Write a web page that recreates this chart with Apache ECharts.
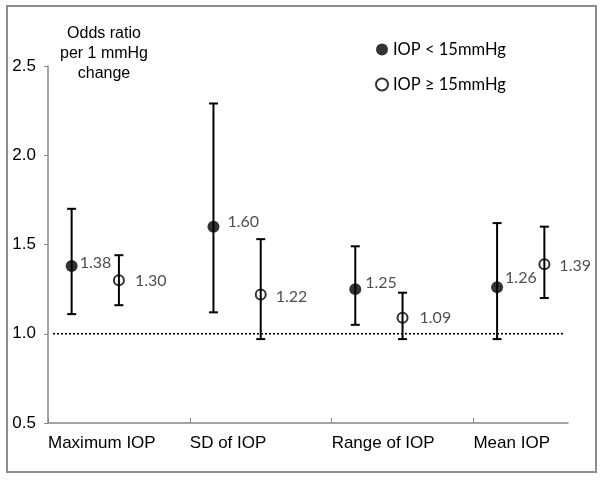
<!DOCTYPE html>
<html><head><meta charset="utf-8">
<script src="https://cdn.jsdelivr.net/npm/echarts@6/dist/echarts.min.js"></script>
<style>html,body{margin:0;padding:0;background:#fff}#c{width:603px;height:480px}</style>
</head><body><div id="c"></div>
<script>
// ---- data ----
const categories = ['Maximum IOP', 'SD of IOP', 'Range of IOP', 'Mean IOP'];
const lowName = 'IOP < 15mmHg';
const highName = 'IOP \u2265 15mmHg';
const lowOR = [1.38, 1.60, 1.25, 1.26];
const lowCILower = [1.11, 1.12, 1.05, 0.97];
const lowCIUpper = [1.70, 2.29, 1.49, 1.62];
const highOR = [1.30, 1.22, 1.09, 1.39];
const highCILower = [1.16, 0.97, 0.97, 1.20];
const highCIUpper = [1.44, 1.53, 1.23, 1.60];
const yTicks = [0.5, 1.0, 1.5, 2.0, 2.5];
const refValue = 1.0;

// ---- layout helpers (positions within each category slot) ----
const lowShift = 1 / 6, highShift = 1 / 2;
const lowLabelStyle = [{d: 2, dy: -3}, {d: 8, dy: -5}, {d: 4, dy: -6}, {d: 2, dy: -9}];
const highLabelStyle = [{d: 10, dy: 1}, {d: 9, dy: 2}, {d: 11, dy: 0}, {d: 9, dy: 2}];

const labelFont = 'Lato, "Open Sans", sans-serif';
const axisFont = '"Liberation Sans", Arial, sans-serif';

function pts(vals, shift, styles) {
  return vals.map((v, i) => ({
    value: [i + shift, v],
    label: {distance: styles[i].d, offset: [0, styles[i].dy]}
  }));
}
function bars(lo, hi, shift) {
  return lo.map((l, i) => [i + shift, l, hi[i]]);
}
function renderErr(params, api) {
  const x = api.value(0);
  const a = api.coord([x, api.value(1)]);
  const b = api.coord([x, api.value(2)]);
  const cw = 4.5;
  const st = {stroke: '#000', lineWidth: 2};
  return {type: 'group', children: [
    {type: 'line', shape: {x1: a[0], y1: a[1], x2: b[0], y2: b[1]}, style: st},
    {type: 'line', shape: {x1: a[0] - cw, y1: a[1], x2: a[0] + cw, y2: a[1]}, style: st},
    {type: 'line', shape: {x1: b[0] - cw, y1: b[1], x2: b[0] + cw, y2: b[1]}, style: st}
  ]};
}

const chart = echarts.init(document.getElementById('c'));
chart.setOption({
  animation: false,
  backgroundColor: '#fff',
  grid: {left: 48, top: 66, right: 35, bottom: 57},
  graphic: [
    {type: 'rect', shape: {x: 7, y: 6, width: 589, height: 466},
     style: {fill: 'none', stroke: '#8c8c8c', lineWidth: 2}, z: -1},
    {type: 'text', x: 104, y: 24,
     style: {text: 'Odds ratio\nper 1 mmHg\nchange', align: 'center', lineHeight: 20,
             font: '16px ' + axisFont, fill: '#000'}}
  ],
  legend: {
    orient: 'vertical', left: 370, top: 36, itemGap: 18,
    itemWidth: 12, itemHeight: 12, itemSymbolGap: 4,
    data: [lowName, highName],
    textStyle: {fontFamily: labelFont, fontSize: 16.5, color: '#000'}
  },
  xAxis: {
    type: 'value', min: 0, max: 11 / 3, interval: 1,
    splitLine: {show: false},
    axisLine: {lineStyle: {color: '#878787', width: 1.5}},
    axisTick: {inside: true, length: 5, lineStyle: {color: '#878787'}},
    axisLabel: {
      showMaxLabel: false, align: 'left', margin: 12,
      fontFamily: axisFont, fontSize: 17, color: '#000',
      formatter: v => categories[Math.round(v)] || ''
    }
  },
  yAxis: {
    type: 'value', min: 0.5, max: 2.5, interval: 0.5,
    splitLine: {show: false},
    axisLine: {show: true, lineStyle: {color: '#878787', width: 1.5}},
    axisTick: {show: true, length: 4, lineStyle: {color: '#878787'}},
    axisLabel: {fontFamily: axisFont, fontSize: 17, color: '#000', margin: 12,
                formatter: v => v.toFixed(1)}
  },
  series: [
    {type: 'line', name: 'ref', data: [[0.035, refValue], [3.64, refValue]],
     symbol: 'none', silent: true,
     lineStyle: {color: '#000', width: 1.6, type: [2, 2]}, z: 1},
    {type: 'custom', name: 'errLow', renderItem: renderErr,
     data: bars(lowCILower, lowCIUpper, lowShift), z: 2},
    {type: 'custom', name: 'errHigh', renderItem: renderErr,
     data: bars(highCILower, highCIUpper, highShift), z: 2},
    {type: 'scatter', name: lowName, symbol: 'circle', symbolSize: 12,
     itemStyle: {color: '#000'}, z: 3,
     label: {show: true, position: 'right', fontFamily: labelFont, fontSize: 16, color: '#222',
             formatter: p => p.value[1].toFixed(2)},
     data: pts(lowOR, lowShift, lowLabelStyle)},
    {type: 'scatter', name: highName, symbol: 'circle', symbolSize: 10,
     itemStyle: {color: 'rgba(0,0,0,0)', borderColor: '#000', borderWidth: 2}, z: 3,
     label: {show: true, position: 'right', fontFamily: labelFont, fontSize: 16, color: '#222',
             formatter: p => p.value[1].toFixed(2)},
     data: pts(highOR, highShift, highLabelStyle)}
  ]
});
</script>
</body></html>
